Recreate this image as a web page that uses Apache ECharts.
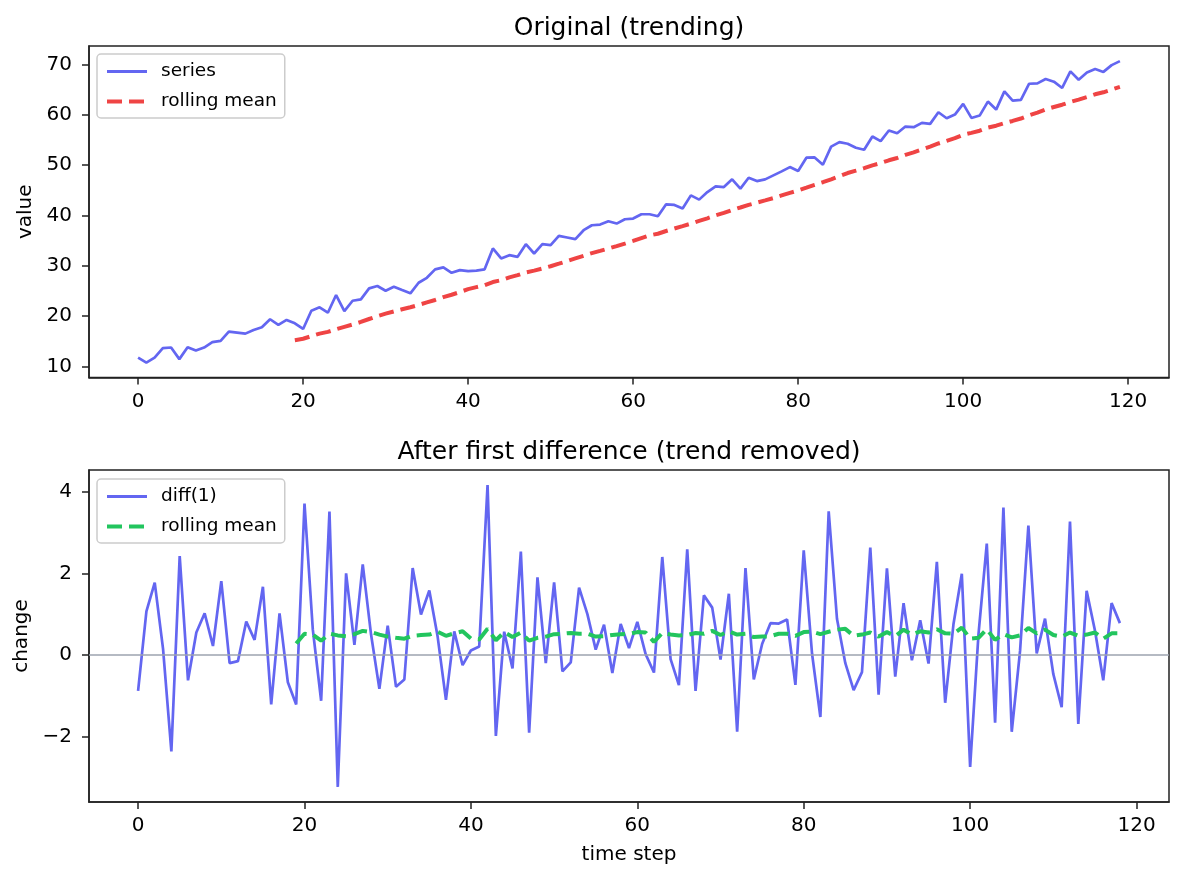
<!DOCTYPE html>
<html><head><meta charset="utf-8">
<script src="https://cdn.jsdelivr.net/npm/echarts@6/dist/echarts.min.js"></script>
<style>html,body{margin:0;padding:0;background:#fff}#c{width:1184px;height:880px}</style>
</head><body><div id="c"></div>
<script>
// ---- data ----
const seriesValues = [
  11.76,10.77,11.76,13.63,13.76,11.45,13.83,13.15,13.76,14.82,15.07,16.92,16.72,16.52,17.25,17.79,19.38,18.25,19.24,18.58,
  17.45,21.08,21.75,20.68,24.19,21.0,23.06,23.34,25.52,25.98,25.05,25.84,25.18,24.53,26.63,27.62,29.29,29.68,28.61,29.15,
  28.95,29.05,29.3,33.45,31.47,32.12,31.79,34.3,32.45,34.3,34.1,35.95,35.63,35.3,37.08,38.07,38.2,38.86,38.4,39.26,
  39.4,40.25,40.25,39.85,42.23,42.1,41.38,44.0,43.16,44.67,45.8,45.66,47.19,45.34,47.52,46.85,47.19,47.98,48.77,49.63,
  48.84,51.5,51.55,50.1,53.7,54.58,54.26,53.47,53.07,55.71,54.78,56.9,56.36,57.69,57.56,58.42,58.22,60.53,59.34,60.07,
  62.19,59.4,59.87,62.65,61.06,64.69,62.85,62.98,66.2,66.27,67.14,66.61,65.36,68.65,67.0,68.45,69.13,68.55,69.9,70.7
];
const rollingStart = 19;
const rollingTop = [
  15.22,15.50,16.02,16.52,16.87,17.39,17.87,18.33,18.84,19.43,19.99,20.49,20.93,21.36,21.76,22.23,22.72,23.21,23.78,24.25,24.78,
  25.36,25.76,26.14,26.78,27.14,27.70,28.14,28.69,29.04,29.46,
  29.91,30.42,30.94,31.48,32.00,32.52,32.97,33.43,33.92,34.43,
  34.95,35.51,36.06,36.38,36.92,37.42,37.90,38.39,38.93,39.45,
  40.03,40.52,41.10,41.60,42.12,42.56,43.01,43.47,43.99,44.51,
  44.98,45.54,46.11,46.62,47.19,47.81,48.45,48.92,49.42,49.97,
  50.42,50.98,51.44,52.06,52.56,53.14,53.69,54.32,54.85,55.37,
  56.04,56.44,56.86,57.49,57.86,58.37,58.80,59.28,59.94,60.47,
  61.09,61.58,62.03,62.58,63.05,63.55,64.10,64.50,65.03,65.56
];
const diffValues = [
  -0.88,1.07,1.77,0.15,-2.36,2.42,-0.62,0.55,1.02,0.22,1.81,-0.2,-0.15,0.82,0.37,1.67,-1.21,1.02,-0.67,-1.21,
  3.71,0.62,-1.12,3.51,-3.23,2.0,0.25,2.22,0.5,-0.83,0.72,-0.78,-0.6,2.13,0.99,1.58,0.45,-1.1,0.58,-0.25,
  0.11,0.21,4.16,-1.98,0.57,-0.33,2.53,-1.9,1.9,-0.2,1.78,-0.4,-0.18,1.65,1.0,0.13,0.74,-0.44,0.76,0.17,
  0.81,0.02,-0.43,2.4,-0.1,-0.74,2.59,-0.88,1.46,1.16,-0.11,1.5,-1.88,2.13,-0.6,0.27,0.78,0.77,0.87,-0.73,
  2.56,0.03,-1.52,3.52,0.88,-0.2,-0.86,-0.42,2.63,-0.97,2.12,-0.53,1.27,-0.13,0.85,-0.21,2.28,-1.17,0.76,1.99,
  -2.74,0.5,2.73,-1.66,3.61,-1.88,0.1,3.17,0.04,0.89,-0.47,-1.28,3.27,-1.69,1.57,0.6,-0.62,1.27,0.78
];
const rollingDiff = [
  0.28,0.52,0.50,0.35,0.52,0.48,0.46,0.51,0.59,0.56,0.50,
  0.45,0.42,0.40,0.47,0.49,0.50,0.57,0.47,0.53,0.58,
  0.40,0.38,0.64,0.36,0.56,0.44,0.55,0.35,0.42,0.45,
  0.51,0.52,0.54,0.52,0.52,0.45,0.46,0.49,0.51,0.52,
  0.56,0.55,0.32,0.54,0.50,0.48,0.49,0.54,0.52,0.59,
  0.49,0.58,0.50,0.52,0.44,0.45,0.46,0.52,0.52,0.47,
  0.56,0.57,0.51,0.57,0.62,0.64,0.47,0.50,0.55,0.45,
  0.56,0.46,0.62,0.50,0.58,0.55,0.63,0.53,0.52,0.67,
  0.40,0.42,0.63,0.37,0.51,0.43,0.48,0.66,0.53,0.62,
  0.49,0.45,0.55,0.47,0.50,0.55,0.40,0.53,0.53
];
const xTicks = [0,20,40,60,80,100,120];
const yTicksTop = [10,20,30,40,50,60,70];
const yTicksBottom = [-2,0,2,4];
const titles = ['Original (trending)', 'After first difference (trend removed)'];

// ---- build ----
const FONT = 'DejaVu Sans';
const BLUE = '#6366f1', RED = '#ef4444', GREEN = '#22c55e';
const SOLID_W = 2.7, DASH_W = 4, DASH = [15, 7];
const pairs = (arr, start) => arr.map((v, i) => [i + start, v]);
const minus = v => String(v).replace('-', '\u2212');

function xAxis(gi, min, max, withName) {
  return {
    type: 'value', gridIndex: gi, min: min, max: max,
    name: withName ? 'time step' : '', nameLocation: 'middle', nameGap: 43,
    nameTextStyle: {fontFamily: FONT, fontSize: 20, color: '#000'},
    axisLine: {show: true, onZero: false, lineStyle: {color: '#222', width: 1.5}},
    axisTick: {show: true, length: 7, lineStyle: {color: '#222', width: 1.5}, customValues: xTicks},
    axisLabel: {customValues: xTicks, fontFamily: FONT, fontSize: 20, color: '#000', margin: 14},
    splitLine: {show: false}
  };
}
function yAxis(gi, min, max, ticks, name) {
  return {
    type: 'value', gridIndex: gi, min: min, max: max,
    name: name, nameLocation: 'middle', nameGap: 50, nameRotate: 90,
    nameTextStyle: {fontFamily: FONT, fontSize: 20, color: '#000'},
    axisLine: {show: true, onZero: false, lineStyle: {color: '#222', width: 1.5}},
    axisTick: {show: true, length: 7, lineStyle: {color: '#222', width: 1.5}, customValues: ticks},
    axisLabel: {customValues: ticks, fontFamily: FONT, fontSize: 20, color: '#000', margin: 17, formatter: minus},
    splitLine: {show: false}
  };
}
function legend(top, items) {
  return {
    left: 97, top: top, orient: 'vertical',
    data: items.map(it => ({name: it.name,
      lineStyle: {color: it.color, width: it.width, type: it.dash ? DASH : 'solid', opacity: 1}})),
    itemWidth: 40, itemHeight: 18, itemGap: 11,
    padding: [8, 8, 7, 8],
    backgroundColor: '#fff', borderColor: '#cccccc', borderWidth: 1.5, borderRadius: 4,
    itemStyle: {opacity: 0},
    formatter: n => n.replace(' (diff)', ''),
    textStyle: {fontFamily: FONT, fontSize: 18.5, color: '#000', padding: [0, 0, 0, 9]},
    selectedMode: false
  };
}
function title(text, top) {
  return {text: text, left: 629, top: top, textAlign: 'center', padding: 0,
    textStyle: {fontFamily: FONT, fontSize: 25, fontWeight: 'normal', color: '#000'}};
}

const chart = echarts.init(document.getElementById('c'), null, {renderer: 'canvas'});
chart.setOption({
  animation: false,
  backgroundColor: '#fff',
  title: [title(titles[0], 16), title(titles[1], 440)],
  grid: [
    {left: 89, top: 46, width: 1080, height: 331.5, show: true, borderColor: '#222', borderWidth: 1.5, backgroundColor: 'transparent'},
    {left: 89, top: 470, width: 1080, height: 332, show: true, borderColor: '#222', borderWidth: 1.5, backgroundColor: 'transparent'}
  ],
  xAxis: [xAxis(0, -5.95, 124.95, false), xAxis(1, -5.9, 123.9, true)],
  yAxis: [yAxis(0, 7.8, 73.7, yTicksTop, 'value'), yAxis(1, -3.6, 4.53, yTicksBottom, 'change')],
  legend: [
    legend(54, [{name: 'series', color: BLUE, width: 3}, {name: 'rolling mean', color: RED, width: DASH_W, dash: true}]),
    legend(479, [{name: 'diff(1)', color: BLUE, width: 3}, {name: 'rolling mean (diff)', color: GREEN, width: DASH_W, dash: true}])
  ],
  series: [
    {name: 'series', type: 'line', xAxisIndex: 0, yAxisIndex: 0, data: pairs(seriesValues, 0),
     symbol: 'none', lineStyle: {color: BLUE, width: SOLID_W}, itemStyle: {color: BLUE}},
    {name: 'rolling mean', type: 'line', xAxisIndex: 0, yAxisIndex: 0, data: pairs(rollingTop, rollingStart),
     symbol: 'none', lineStyle: {color: RED, width: DASH_W, type: DASH}, itemStyle: {color: RED}},
    {name: 'diff(1)', type: 'line', xAxisIndex: 1, yAxisIndex: 1, data: pairs(diffValues, 0),
     symbol: 'none', lineStyle: {color: BLUE, width: SOLID_W}, itemStyle: {color: BLUE},
     markLine: {silent: true, symbol: ['none', 'none'], label: {show: false},
       lineStyle: {color: '#9ca3af', width: 1.5, type: 'solid'}, data: [{yAxis: 0}]}},
    {name: 'rolling mean (diff)', type: 'line', xAxisIndex: 1, yAxisIndex: 1, data: pairs(rollingDiff, rollingStart),
     symbol: 'none', lineStyle: {color: GREEN, width: DASH_W, type: DASH}, itemStyle: {color: GREEN}}
  ]
});
</script>
</body></html>
